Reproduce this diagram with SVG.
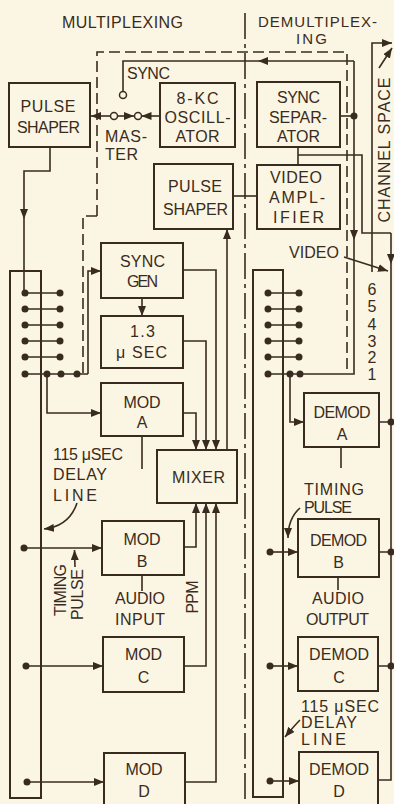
<svg xmlns="http://www.w3.org/2000/svg" width="394" height="804" viewBox="0 0 394 804">
<style>
.box{fill:none;stroke:#3a2b20;stroke-width:2}
.ln{fill:none;stroke:#3a2b20;stroke-width:1.6}
.dash{fill:none;stroke:#3a2b20;stroke-width:1.6;stroke-dasharray:11 5}
.dd{fill:none;stroke:#3a2b20;stroke-width:1.6;stroke-dasharray:26 5 4 5}
.dot{fill:#3a2b20}
.ring{fill:#fbf6e4;stroke:#3a2b20;stroke-width:1.5}
.ar{marker-end:url(#ah)}
text{font-family:"Liberation Sans",Arial,sans-serif;font-size:16px;fill:#3a2b20}
.m{text-anchor:middle}
.s{font-size:15px}
</style>
<defs>
<marker id="ah" viewBox="0 0 10 8" refX="10" refY="4" markerWidth="10" markerHeight="8" orient="auto" markerUnits="userSpaceOnUse"><path d="M0,0 L10,4 L0,8 z" fill="#3a2b20"/></marker>
</defs>
<rect width="394" height="804" fill="#fbf6e4"/>

<g id="labels">
<text class="m" x="122.5" y="28" textLength="121">MULTIPLEXING</text>
<text class="m s" x="317.5" y="27" textLength="119">DEMULTIPLEX-</text>
<text class="m s" x="311.5" y="44" textLength="31">ING</text>
<text class="m" x="148.5" y="79" textLength="43">SYNC</text>
<text x="105" y="142" textLength="42">MAS-</text>
<text x="105" y="160" textLength="33">TER</text>
<text x="53" y="460" textLength="70">115 μSEC</text>
<text x="53" y="480" textLength="54">DELAY</text>
<text x="53" y="501" textLength="44">LINE</text>
<text transform="translate(66,590) rotate(-90)" class="m" textLength="52">TIMING</text>
<text transform="translate(83,594.5) rotate(-90)" class="m" textLength="51">PULSE</text>
<text class="m" x="140" y="604" textLength="50">AUDIO</text>
<text class="m" x="140" y="625" textLength="50">INPUT</text>
<text transform="translate(198,597) rotate(-90)" class="m" textLength="33">PPM</text>
<text transform="translate(390,150) rotate(-90)" class="m" textLength="145">CHANNEL SPACE</text>
<text x="289" y="258" textLength="50">VIDEO</text>
<text class="m" x="372" y="295">6</text>
<text class="m" x="372" y="312">5</text>
<text class="m" x="372" y="330">4</text>
<text class="m" x="372" y="347">3</text>
<text class="m" x="372" y="363">2</text>
<text class="m" x="372" y="380">1</text>
<text x="304" y="495" textLength="60">TIMING</text>
<text x="304" y="513" textLength="48">PULSE</text>
<text class="m" x="338" y="604" textLength="52">AUDIO</text>
<text class="m" x="337.5" y="625" textLength="63">OUTPUT</text>
<text x="301" y="712" textLength="78">115 μSEC</text>
<text x="301" y="728" textLength="56">DELAY</text>
<text x="301" y="745" textLength="45">LINE</text>
</g>

<g id="pulse-shaper-tx">
<rect class="box" x="9" y="83" width="81" height="64"/>
<text class="m" x="48" y="112" textLength="55">PULSE</text>
<text class="m" x="48.5" y="133" textLength="63">SHAPER</text>
</g>
<g id="oscillator">
<rect class="box" x="160" y="83" width="75" height="64"/>
<text class="m" x="197.5" y="104" textLength="42">8-KC</text>
<text class="m" x="197.5" y="123" textLength="66">OSCILL-</text>
<text class="m" x="197.5" y="142" textLength="44">ATOR</text>
</g>
<g id="sync-separator">
<rect class="box" x="257" y="82" width="83" height="65"/>
<text class="m" x="298.5" y="103" textLength="43">SYNC</text>
<text class="m" x="298" y="123" textLength="58">SEPAR-</text>
<text class="m" x="298.5" y="142" textLength="43">ATOR</text>
</g>
<g id="pulse-shaper-mid">
<rect class="box" x="154" y="164" width="79" height="65"/>
<text class="m" x="195" y="192" textLength="54">PULSE</text>
<text class="m" x="195.5" y="215" textLength="65">SHAPER</text>
</g>
<g id="video-amplifier">
<rect class="box" x="257" y="165" width="83" height="64"/>
<text class="m" x="296" y="183" textLength="52">VIDEO</text>
<text class="m" x="297" y="203" textLength="56">AMPL-</text>
<text class="m" x="298.5" y="223" textLength="51">IFIER</text>
</g>
<g id="sync-gen">
<rect class="box" x="101" y="243" width="82" height="55"/>
<text class="m" x="142.5" y="267" textLength="45">SYNC</text>
<text class="m" x="142.5" y="287" textLength="31">GEN</text>
</g>
<g id="delay-13">
<rect class="box" x="101" y="316" width="82" height="52"/>
<text class="m" x="142.5" y="337" textLength="25">1.3</text>
<text x="116" y="358" textLength="51">μ SEC</text>
</g>
<g id="mod-a">
<rect class="box" x="101" y="383" width="82" height="53"/>
<text class="m" x="142" y="408" textLength="37">MOD</text>
<text class="m" x="142" y="428">A</text>
</g>
<g id="mixer">
<rect class="box" x="157" y="450" width="80" height="53"/>
<text class="m" x="198.5" y="483" textLength="53">MIXER</text>
</g>
<g id="mod-b">
<rect class="box" x="102" y="521" width="82" height="54"/>
<text class="m" x="142" y="545" textLength="37">MOD</text>
<text class="m" x="142" y="567">B</text>
</g>
<g id="mod-c">
<rect class="box" x="103" y="637" width="81" height="55"/>
<text class="m" x="143.5" y="660" textLength="37">MOD</text>
<text class="m" x="143.5" y="683">C</text>
</g>
<g id="mod-d">
<rect class="box" x="104" y="753" width="81" height="60"/>
<text class="m" x="144" y="775" textLength="37">MOD</text>
<text class="m" x="144" y="797">D</text>
</g>
<g id="demod-a">
<rect class="box" x="304" y="393" width="75" height="54"/>
<text class="m" x="342" y="418" textLength="57">DEMOD</text>
<text class="m" x="342" y="440">A</text>
</g>
<g id="demod-b">
<rect class="box" x="298" y="519" width="81" height="58"/>
<text class="m" x="338.5" y="546" textLength="57">DEMOD</text>
<text class="m" x="338.5" y="568">B</text>
</g>
<g id="demod-c">
<rect class="box" x="298" y="637" width="80" height="54"/>
<text class="m" x="339" y="660" textLength="60">DEMOD</text>
<text class="m" x="339" y="683">C</text>
</g>
<g id="demod-d">
<rect class="box" x="299" y="752" width="79" height="60"/>
<text class="m" x="339" y="775" textLength="60">DEMOD</text>
<text class="m" x="339" y="797">D</text>
</g>
<g id="delay-line-tx">
<rect class="box" x="10" y="271" width="31" height="527"/>
</g>
<g id="delay-line-rx">
<rect class="box" x="253" y="270" width="30" height="527"/>
</g>

<g id="connectors">
<path class="dd" d="M245,13 V804"/>
<path class="dash" d="M97,216 V52 H347 V373"/>
<path class="dash" d="M97,216 H83 V374"/>
<path class="ln ar" d="M50,147 V171 H24 V219"/>
<path class="ln" d="M24,219 V293"/>
<path class="ln" d="M25,293 H60 M25,309 H60 M25,325 H60 M25,341 H60 M25,357 H60 M25,374 H88"/>
<path class="ln ar" d="M88,374 V271 H101"/>
<path class="ln ar" d="M47,374 V413 H101"/>
<path class="ln ar" d="M142,298 V316"/>
<path class="ln ar" d="M183,270 H216 V450"/>
<path class="ln ar" d="M183,341 H206 V450"/>
<path class="ln ar" d="M183,413 H196 V450"/>
<path class="ln ar" d="M227,450 V229"/>
<path class="ln ar" d="M184,547 H196 V503"/>
<path class="ln ar" d="M184,666 H206 V503"/>
<path class="ln ar" d="M185,782 H216 V503"/>
<path class="ln" d="M142,436 V469 M142,575 V591"/>
<path class="ln ar" d="M24,548 H102"/>
<path class="ln ar" d="M26,666 H103"/>
<path class="ln ar" d="M27,782 H104"/>
<path class="ln ar" d="M75,567 L74.5,550"/>
<path class="ln ar" d="M77,503 C72,518 62,527 44,529"/>
<path class="ln ar" d="M110.5,116 H91"/>
<path class="ln ar" d="M117.5,116 H134"/>
<path class="ln ar" d="M160,116 H141.5"/>
<circle class="ring" cx="114" cy="116" r="3.5"/>
<circle class="ring" cx="138" cy="116" r="3.5"/>
<path class="ln ar" d="M354,61 H258"/>
<path class="ln" d="M258,61 H123 V91.5"/>
<circle class="ring" cx="123" cy="95" r="3.5"/>
<path class="ln" d="M340,116 H354"/>
<path class="ln ar" d="M354,61 V240"/>
<path class="ln" d="M354,240 V374 H268"/>
<path class="ln" d="M233,196 H257"/>
<path class="ln" d="M298,147 V165 M298,155 H362 V233 H391"/>
<path class="ln ar" d="M391,233 V264"/>
<path class="ln" d="M391,264 V780 H378"/>
<path class="ln" d="M379,422 H391 M379,552 H391 M378,666 H391"/>
<path class="ln" d="M268,293 H299 M268,309 H299 M268,325 H299 M268,341 H299 M268,357 H299"/>
<path class="ln ar" d="M290,374 V422 H304"/>
<path class="ln" d="M341,447 V468 M338,577 V590"/>
<path class="ln ar" d="M300,508 C292,515 288,525 288,538"/>
<path class="ln ar" d="M270,552 H298"/>
<path class="ln ar" d="M270,666 H298"/>
<path class="ln ar" d="M300,720 C294,726 290,731 285,737"/>
<path class="ln ar" d="M270,781 H299"/>
<path class="ln ar" d="M344,257 L388,271"/>
<path class="ln" d="M372,272 V43 H380"/>
<path class="ln ar" d="M380,43 H392"/>
<path class="ln ar" d="M379,68 L392,48"/>
<g class="dot">
<circle cx="25" cy="293" r="3.5"/><circle cx="60" cy="293" r="3.5"/>
<circle cx="25" cy="309" r="3.5"/><circle cx="60" cy="309" r="3.5"/>
<circle cx="25" cy="325" r="3.5"/><circle cx="60" cy="325" r="3.5"/>
<circle cx="25" cy="341" r="3.5"/><circle cx="60" cy="341" r="3.5"/>
<circle cx="25" cy="357" r="3.5"/><circle cx="60" cy="357" r="3.5"/>
<circle cx="25" cy="374" r="3.5"/><circle cx="47" cy="374" r="3.5"/><circle cx="61" cy="374" r="3.5"/><circle cx="77" cy="374" r="3.5"/>
<circle cx="24" cy="548" r="3.5"/><circle cx="26" cy="666" r="3.5"/><circle cx="27" cy="782" r="3.5"/>
<circle cx="268" cy="293" r="3.5"/><circle cx="299" cy="293" r="3.5"/>
<circle cx="268" cy="309" r="3.5"/><circle cx="299" cy="309" r="3.5"/>
<circle cx="268" cy="325" r="3.5"/><circle cx="299" cy="325" r="3.5"/>
<circle cx="268" cy="341" r="3.5"/><circle cx="299" cy="341" r="3.5"/>
<circle cx="268" cy="357" r="3.5"/><circle cx="299" cy="357" r="3.5"/>
<circle cx="268" cy="374" r="3.5"/><circle cx="290" cy="374" r="3.5"/><circle cx="300" cy="374" r="3.5"/>
<circle cx="270" cy="552" r="3.5"/><circle cx="270" cy="666" r="3.5"/><circle cx="270" cy="781" r="3.5"/>
<circle cx="354" cy="116" r="3.5"/>
<circle cx="391" cy="422" r="3.5"/><circle cx="391" cy="552" r="3.5"/><circle cx="391" cy="666" r="3.5"/>
</g>
</g>
</svg>
